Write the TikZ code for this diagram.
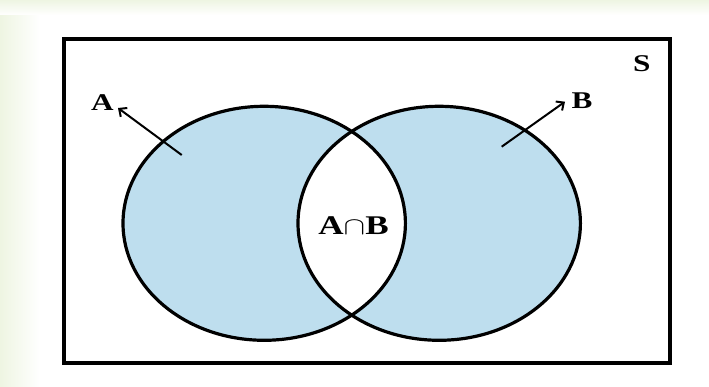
\documentclass[tikz,border=0pt]{standalone}
\usepackage{fontspec}
\setmainfont{Liberation Serif}
\usetikzlibrary{arrows.meta}
\definecolor{vennblue}{RGB}{190,222,238}
\definecolor{paletint}{RGB}{238,245,226}
\newcommand{\widetext}[1]{\scalebox{1.3}[1]{#1}}
\begin{document}
\begin{tikzpicture}[x=1pt, y=1pt, every node/.style={font=\fontsize{24}{28}\selectfont\bfseries, inner sep=1pt}]
    \useasboundingbox (0,0) rectangle (709,387);
    % faint tinted margin
    \fill[left color=paletint, right color=white] (0,0) rectangle (40,387);
    \fill[top color=paletint, bottom color=white] (0,372) rectangle (709,387);

    \draw[line width=4pt] (64,348) rectangle (670,24);

    \fill[vennblue] (264.2,163.7) ellipse [x radius=141.2, y radius=117];
    \fill[vennblue] (439.2,163.7) ellipse [x radius=141.2, y radius=117];
    \begin{scope}
        \clip (264.2,163.7) ellipse [x radius=141.2, y radius=117];
        \fill[white] (439.2,163.7) ellipse [x radius=141.2, y radius=117];
    \end{scope}
    \draw[line width=3.2pt] (264.2,163.7) ellipse [x radius=141.2, y radius=117];
    \draw[line width=3.2pt] (439.2,163.7) ellipse [x radius=141.2, y radius=117];

    \node (setS) at (641.7,323.5) {\widetext{S}};
    \node (setA) at (102.5,284.5) {\widetext{A}};
    \node (setB) at (582,286.5) {\widetext{B}};
    \node[font=\fontsize{27}{30}\selectfont\bfseries] (inter) at (353.5,161) {\widetext{A$\cap$B}};

    \coordinate (tailA) at (181.7,232);
    \coordinate (tailB) at (501.7,240.3);
    \draw[line width=2pt, -{Straight Barb[length=6pt, width=11pt]}] (tailA) -- (118,279);
    \draw[line width=2pt, -{Straight Barb[length=6pt, width=11pt]}] (tailB) -- (565,285.3);
\end{tikzpicture}
\end{document}
